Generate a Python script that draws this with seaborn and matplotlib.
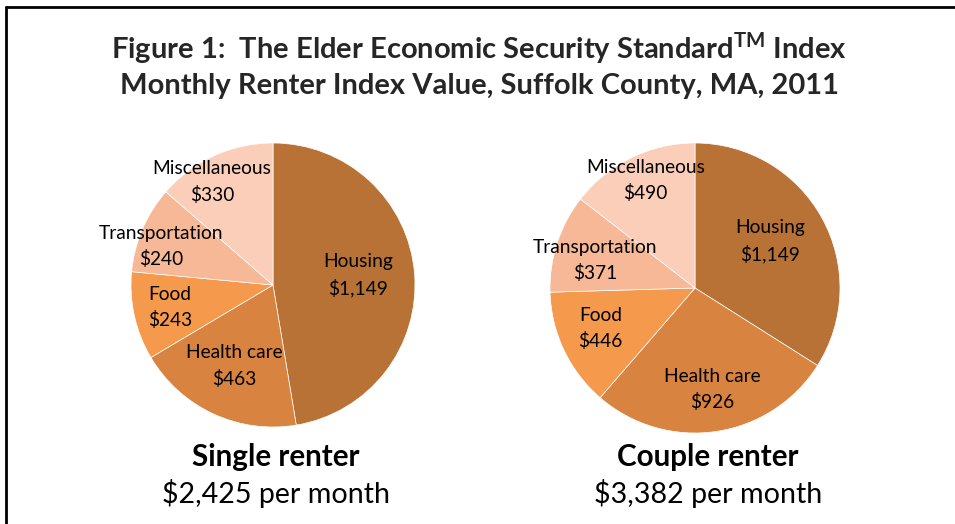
import matplotlib
matplotlib.use("Agg")
import matplotlib.pyplot as plt
import seaborn as sns

sns.set_theme(style="white")
plt.rcParams['font.family'] = ['Lato', 'DejaVu Sans']
plt.rcParams['mathtext.fontset'] = 'custom'
plt.rcParams['mathtext.rm'] = 'Lato:bold'

# data
categories = ['Housing', 'Health care', 'Food', 'Transportation', 'Miscellaneous']
single_values = [1149, 463, 243, 240, 330]
couple_values = [1149, 926, 446, 371, 490]
single_total = '$2,425 per month'
couple_total = '$3,382 per month'
colors = ['#B87236', '#D88340', '#F5994D', '#F6B896', '#FACEB8']

# label spots inside each pie (fraction of radius)
single_pos = [(0.60, 0.07), (-0.27, -0.57), (-0.725, -0.16), (-0.79, 0.27), (-0.43, 0.725)]
couple_pos = [(0.52, 0.32), (0.12, -0.70), (-0.65, -0.28), (-0.69, 0.19), (-0.34, 0.74)]

W, H = 955, 524
fig = plt.figure(figsize=(W / 100, H / 100), dpi=100)


def draw_pie(cx, cy, r, values, pos, name, total, tx):
    ax = fig.add_axes([(cx - r) / W, (H - cy - r) / H, 2 * r / W, 2 * r / H])
    ax.pie(values, colors=colors, startangle=90, counterclock=False,
           wedgeprops=dict(edgecolor='white', linewidth=0.5))
    ax.set_xlim(-1, 1)
    ax.set_ylim(-1, 1)
    ax.set_aspect('equal')
    ax.axis('off')
    for cat, v, (dx, dy) in zip(categories, values, pos):
        ax.text(dx, dy, f'{cat}\n${v:,}', ha='center', va='center',
                fontsize=13.8, color='black', linespacing=1.55)
    fig.text(tx / W, 1 - 457 / H, name, ha='center', va='center',
             fontsize=21.3, fontweight='bold', color='black')
    fig.text(tx / W, 1 - 493 / H, total, ha='center', va='center',
             fontsize=20.6, color='black')


draw_pie(273, 285, 142, single_values, single_pos, 'Single renter', single_total, 276)
draw_pie(695, 288, 145, couple_values, couple_pos, 'Couple renter', couple_total, 708)

fig.text(479 / W, 1 - 48 / H,
         r'Figure 1:  The Elder Economic Security Standard$^{\mathrm{TM}}$ Index',
         ha='center', va='center', fontsize=21, fontweight='bold')
fig.text(479 / W, 1 - 86 / H,
         'Monthly Renter Index Value, Suffolk County, MA, 2011',
         ha='center', va='center', fontsize=21, fontweight='bold')

# frame: top and left border
fig.add_artist(plt.Line2D([6 / W, 1], [1 - 7 / H, 1 - 7 / H], color='black', lw=2))
fig.add_artist(plt.Line2D([6 / W, 6 / W], [0, 1 - 7 / H], color='black', lw=2))

fig.savefig('out.png', dpi=100, facecolor='white')
